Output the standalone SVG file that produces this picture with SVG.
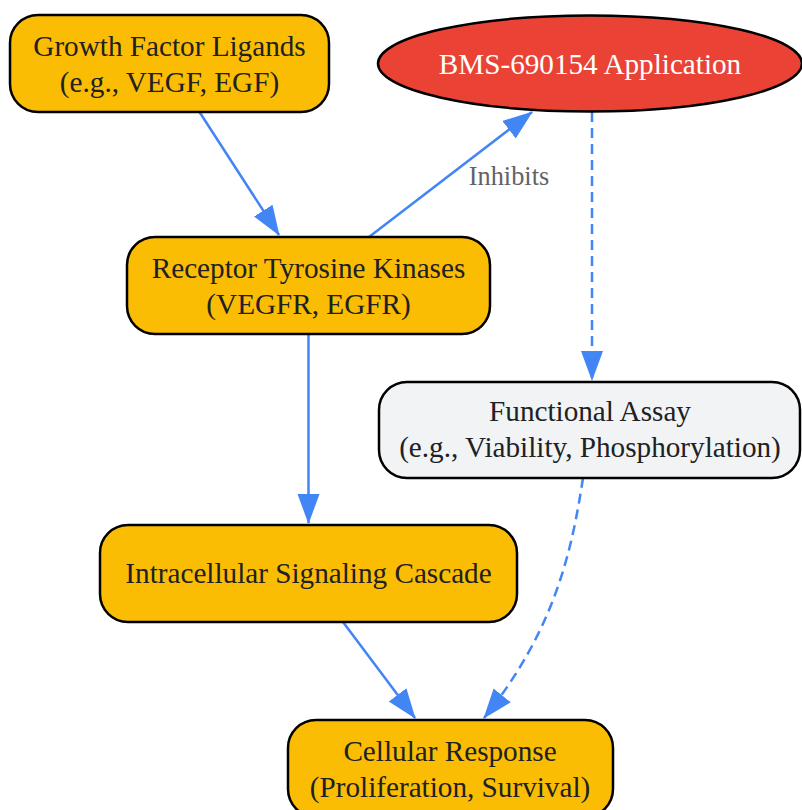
<svg xmlns="http://www.w3.org/2000/svg" width="802" height="810" viewBox="0 0 802 810">
<style>
.box{fill:#fbbc04;stroke:#000;stroke-width:2.5}
.assay{fill:#f1f3f4;stroke:#000;stroke-width:2.5}
.t{font-family:"Liberation Serif","Times New Roman",serif;font-size:29.2px;fill:#202124;text-anchor:middle}
.w{fill:#ffffff}
.lbl{font-family:"Liberation Serif","Times New Roman",serif;font-size:26.3px;fill:#5f6368;text-anchor:middle}
.e{fill:none;stroke:#4285f4;stroke-width:2.5}
.d{stroke-dasharray:10,6}
</style>
<defs>
<marker id="ah" markerUnits="userSpaceOnUse" markerWidth="30" markerHeight="24" viewBox="0 0 30 24" refX="29" refY="12" orient="auto">
<path d="M0,1 L30,12 L0,23 z" fill="#4285f4"/>
</marker>
</defs>
<rect width="802" height="810" fill="#ffffff"/>
<g id="connectors">
<path class="e" d="M199.5,112 L279,235" marker-end="url(#ah)"/>
<path class="e" d="M369,237 L532,112" marker-end="url(#ah)"/>
<text class="lbl" x="509" y="185">Inhibits</text>
<path class="e d" d="M592,112 L592,380" marker-end="url(#ah)"/>
<path class="e" d="M308.5,334 L308.5,523" marker-end="url(#ah)"/>
<path class="e" d="M343,622 L415,718" marker-end="url(#ah)"/>
<path class="e d" d="M583,478 C572,550 555,630 484,718" marker-end="url(#ah)"/>
</g>
<g id="growth-factor">
<rect class="box" x="10" y="15" width="319" height="97" rx="28"/>
<text class="t" x="169.5" y="56">Growth Factor Ligands</text>
<text class="t" x="169.5" y="92">(e.g., VEGF, EGF)</text>
</g>
<g id="bms">
<ellipse cx="590" cy="63.5" rx="212" ry="48" fill="#ea4335" stroke="#000" stroke-width="2.5"/>
<text class="t w" x="590" y="74">BMS-690154 Application</text>
</g>
<g id="rtk">
<rect class="box" x="127" y="237" width="363" height="97" rx="28"/>
<text class="t" x="308.5" y="278">Receptor Tyrosine Kinases</text>
<text class="t" x="308.5" y="314">(VEGFR, EGFR)</text>
</g>
<g id="assay">
<rect class="assay" x="379" y="382" width="421" height="96" rx="28"/>
<text class="t" x="590" y="421">Functional Assay</text>
<text class="t" x="590" y="457">(e.g., Viability, Phosphorylation)</text>
</g>
<g id="cascade">
<rect class="box" x="100" y="525" width="417" height="97" rx="28"/>
<text class="t" x="308.5" y="583">Intracellular Signaling Cascade</text>
</g>
<g id="response">
<rect class="box" x="288" y="720" width="325" height="97" rx="28"/>
<text class="t" x="450" y="761">Cellular Response</text>
<text class="t" x="450" y="797">(Proliferation, Survival)</text>
</g>
</svg>
